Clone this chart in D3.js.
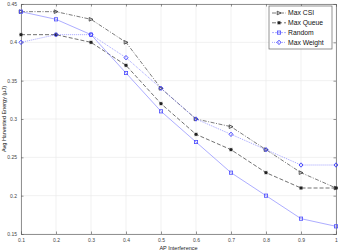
<!DOCTYPE html>
<html>
<head>
<meta charset="utf-8">
<script src="https://cdn.jsdelivr.net/npm/d3@7"></script>
<style>
  body { margin: 0; background: #fff; }
  text { font-family: "Liberation Sans", Arial, sans-serif; }
</style>
</head>
<body>
<div id="chart"></div>
<script>
const xValues = [0.1, 0.2, 0.3, 0.4, 0.5, 0.6, 0.7, 0.8, 0.9, 1.0];
const maxCsi = [0.44, 0.44, 0.43, 0.40, 0.34, 0.30, 0.29, 0.26, 0.23, 0.21];
const maxQueue = [0.41, 0.41, 0.40, 0.37, 0.32, 0.28, 0.26, 0.23, 0.21, 0.21];
const random = [0.44, 0.43, 0.41, 0.36, 0.31, 0.27, 0.23, 0.20, 0.17, 0.16];
const maxWeight = [0.40, 0.41, 0.41, 0.38, 0.34, 0.30, 0.28, 0.26, 0.24, 0.24];
const xTicks = [0.1, 0.2, 0.3, 0.4, 0.5, 0.6, 0.7, 0.8, 0.9, 1];
const yTicks = [0.15, 0.2, 0.25, 0.3, 0.35, 0.4, 0.45];

const series = [
  { name: 'Max CSI', values: maxCsi, line: '#444', dash: '4,1.5,1,1.5', marker: 'tri', mcolor: '#333' },
  { name: 'Max Queue', values: maxQueue, line: '#333', dash: '4,2', marker: 'star', mcolor: '#222' },
  { name: 'Random', values: random, line: '#8a8aff', dash: null, marker: 'square', mcolor: '#4a4aff' },
  { name: 'Max Weight', values: maxWeight, line: '#7a7aff', dash: '1,1', marker: 'diamond', mcolor: '#3a3aff' }
];

const W = 338, H = 252;
const margin = { top: 4, right: 2, bottom: 18, left: 21 };
const width = W - margin.left - margin.right;
const height = H - margin.top - margin.bottom;

const svg = d3.select('#chart').append('svg')
  .attr('width', W)
  .attr('height', H);
const g = svg.append('g')
  .attr('transform', 'translate(' + margin.left + ',' + margin.top + ')');

const x = d3.scaleLinear().domain([0.1, 1]).range([0, width]);
const y = d3.scaleLinear().domain([0.15, 0.45]).range([height, 0]);

// grid
g.append('g').selectAll('line').data(xTicks).enter().append('line')
  .attr('x1', d => x(d)).attr('x2', d => x(d))
  .attr('y1', 0).attr('y2', height)
  .attr('stroke', '#ebebeb').attr('stroke-width', 0.7);
g.append('g').selectAll('line').data(yTicks).enter().append('line')
  .attr('x1', 0).attr('x2', width)
  .attr('y1', d => y(d)).attr('y2', d => y(d))
  .attr('stroke', '#ebebeb').attr('stroke-width', 0.7);

// axes (ticks pointing inward)
const fmt = d => d3.format('~g')(d);
const xAxis = d3.axisBottom(x).tickValues(xTicks).tickSize(-2.5).tickPadding(4).tickFormat(fmt);
const yAxis = d3.axisLeft(y).tickValues(yTicks).tickSize(-2.5).tickPadding(4).tickFormat(fmt);
const xTop = d3.axisTop(x).tickValues(xTicks).tickSize(-2.5).tickFormat('');
const yRight = d3.axisRight(y).tickValues(yTicks).tickSize(-2.5).tickFormat('');

const gx = g.append('g').attr('transform', 'translate(0,' + height + ')').call(xAxis);
const gy = g.append('g').call(yAxis);
const gxt = g.append('g').call(xTop);
const gyr = g.append('g').attr('transform', 'translate(' + width + ',0)').call(yRight);
[gx, gy, gxt, gyr].forEach(a => {
  a.selectAll('path, line').attr('stroke', '#666').attr('stroke-width', 0.7);
  a.selectAll('text').attr('fill', '#444').style('font-size', '5px');
});

// axis titles
g.append('text')
  .attr('x', width / 2).attr('y', height + 16)
  .attr('text-anchor', 'middle')
  .style('font-size', '5.5px').attr('fill', '#222')
  .text('AP Interference');
g.append('text')
  .attr('transform', 'translate(' + (-15) + ',' + (height / 2) + ') rotate(-90)')
  .attr('text-anchor', 'middle')
  .style('font-size', '5.5px').attr('fill', '#222')
  .text('Avg Harvested Energy (\u00b5J)');

// marker drawing
function drawMarker(sel, type, color) {
  if (type === 'tri') {
    sel.append('path').attr('d', 'M-1.8,-1.8L2,0L-1.8,1.8Z')
      .attr('fill', 'none').attr('stroke', color).attr('stroke-width', 0.8);
  } else if (type === 'star') {
    sel.append('path').attr('d', d3.symbol(d3.symbolSquare, 7)())
      .attr('fill', color);
    sel.append('path').attr('d', 'M-1.8,0L1.8,0M0,-1.8L0,1.8M-1.3,-1.3L1.3,1.3M-1.3,1.3L1.3,-1.3')
      .attr('stroke', color).attr('stroke-width', 0.7);
  } else if (type === 'square') {
    sel.append('rect').attr('x', -1.6).attr('y', -1.6).attr('width', 3.2).attr('height', 3.2)
      .attr('fill', 'none').attr('stroke', color).attr('stroke-width', 0.8);
  } else if (type === 'diamond') {
    sel.append('path').attr('d', 'M0,-2.2L2,0L0,2.2L-2,0Z')
      .attr('fill', 'none').attr('stroke', color).attr('stroke-width', 0.9);
  }
}

const line = d3.line().x(d => x(d[0])).y(d => y(d[1]));

series.forEach(s => {
  const pts = xValues.map((v, i) => [v, s.values[i]]);
  g.append('path')
    .datum(pts)
    .attr('d', line)
    .attr('fill', 'none')
    .attr('stroke', s.line)
    .attr('stroke-width', 0.7)
    .attr('stroke-dasharray', s.dash);
  g.append('g').selectAll('g').data(pts).enter().append('g')
    .attr('transform', d => 'translate(' + x(d[0]) + ',' + y(d[1]) + ')')
    .each(function () { drawMarker(d3.select(this), s.marker, s.mcolor); });
});

// legend
const legend = g.append('g').attr('transform', 'translate(' + (width - 67) + ',2)');
legend.append('rect')
  .attr('width', 63).attr('height', 43)
  .attr('fill', '#fff').attr('stroke', '#666').attr('stroke-width', 0.7);
series.forEach((s, i) => {
  const row = legend.append('g').attr('transform', 'translate(0,' + (7 + i * 9.8) + ')');
  row.append('line')
    .attr('x1', 3).attr('x2', 17).attr('y1', 0).attr('y2', 0)
    .attr('stroke', s.line).attr('stroke-width', 0.7)
    .attr('stroke-dasharray', s.dash || '2,1');
  const m = row.append('g').attr('transform', 'translate(10,0)');
  drawMarker(m, s.marker, s.mcolor);
  row.append('text')
    .attr('x', 19).attr('y', 2.3)
    .style('font-size', '6.8px').attr('fill', '#111')
    .text(s.name);
});
</script>
</body>
</html>
